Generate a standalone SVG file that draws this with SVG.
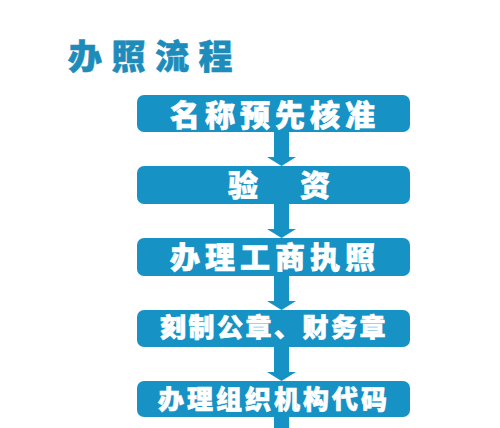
<svg xmlns="http://www.w3.org/2000/svg" width="500" height="428" viewBox="0 0 500 428">
<style>
.box{fill:#1792c5;}
.lbl{fill:#ffffff;stroke:#ffffff;stroke-width:0.6px;font-family:"Noto Sans CJK SC","Noto Sans",sans-serif;font-weight:900;}
.title{fill:#1e8cba;stroke:#1e8cba;stroke-width:0.6px;font-family:"Noto Sans CJK SC","Noto Sans",sans-serif;font-weight:900;font-size:34px;letter-spacing:9.5px;}
.arr{fill:#1792c5;}
</style>
<rect x="0" y="0" width="500" height="428" fill="#ffffff"/>
<text class="title" x="68" y="68.5">办照流程</text>
<g id="connectors">
<path class="arr" d="M274,132 H289 V157 H296 L281.5,166 L267,157 H274 Z"/>
<path class="arr" d="M274,204 H289 V229 H296 L281.5,238 L267,229 H274 Z"/>
<path class="arr" d="M274,276 H289 V301 H296 L281.5,310 L267,301 H274 Z"/>
<path class="arr" d="M274,347 H289 V372 H296 L281.5,381 L267,372 H274 Z"/>
<rect class="arr" x="274" y="417" width="15" height="11"/>
</g>
<g id="node1">
<rect class="box" x="137" y="95" width="273" height="37" rx="7"/>
<text class="lbl" x="170" y="126" font-size="30" letter-spacing="5">名称预先核准</text>
</g>
<g id="node2">
<rect class="box" x="137" y="166" width="273" height="38" rx="7"/>
<text class="lbl" y="196" font-size="30"><tspan x="228">验</tspan><tspan x="300">资</tspan></text>
</g>
<g id="node3">
<rect class="box" x="137" y="238" width="273" height="38" rx="7"/>
<text class="lbl" x="170" y="268.4" font-size="30" letter-spacing="5">办理工商执照</text>
</g>
<g id="node4">
<rect class="box" x="137" y="310" width="273" height="37" rx="7"/>
<text class="lbl" x="160" y="337.4" font-size="26" letter-spacing="2.5">刻制公章、财务章</text>
</g>
<g id="node5">
<rect class="box" x="137" y="381" width="273" height="36" rx="7"/>
<text class="lbl" x="158" y="409.4" font-size="26" letter-spacing="3">办理组织机构代码</text>
</g>
</svg>
